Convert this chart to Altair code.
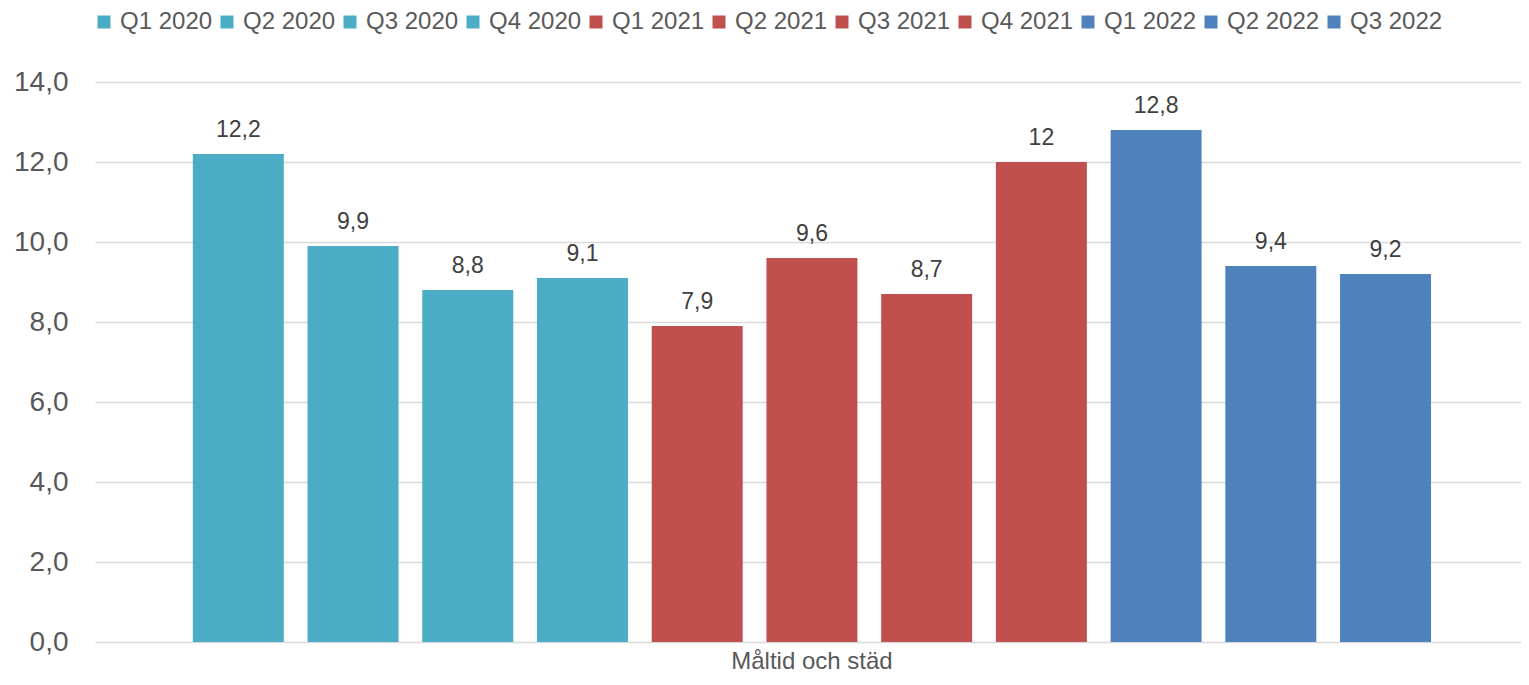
import altair as alt
import pandas as pd

quarters = ["Q1 2020", "Q2 2020", "Q3 2020", "Q4 2020",
            "Q1 2021", "Q2 2021", "Q3 2021", "Q4 2021",
            "Q1 2022", "Q2 2022", "Q3 2022"]
values = [12.2, 9.9, 8.8, 9.1, 7.9, 9.6, 8.7, 12, 12.8, 9.4, 9.2]
colors = ["#4BACC6", "#4BACC6", "#4BACC6", "#4BACC6",
          "#C0504D", "#C0504D", "#C0504D", "#C0504D",
          "#4F81BD", "#4F81BD", "#4F81BD"]
category = "Måltid och städ"
y_ticks = [0, 2, 4, 6, 8, 10, 12, 14]

df = pd.DataFrame({"kategori": [category] * len(quarters),
                   "kvartal": quarters, "varde": values})

FONT = "Liberation Sans"

x = alt.X("kategori:N", title=None,
          scale=alt.Scale(paddingInner=0, paddingOuter=0.065, align=0.524),
          axis=alt.Axis(labelAngle=0, ticks=False, domain=False,
                        labelFontSize=24, labelColor="#595959",
                        labelFont=FONT, labelPadding=7))
xo = alt.XOffset("kvartal:N", sort=quarters,
                 scale=alt.Scale(paddingInner=0.207, paddingOuter=0.1035))
y = alt.Y("varde:Q", title=None,
          scale=alt.Scale(domain=[0, 14], nice=False),
          axis=alt.Axis(values=y_ticks, ticks=False, domain=False,
                        labelExpr="replace(format(datum.value, '.1f'), '.', ',')",
                        labelFontSize=28, labelColor="#595959", labelFont=FONT,
                        labelPadding=27, gridColor="#D9D9D9", gridWidth=1.5))

color = alt.Color("kvartal:N", sort=quarters,
                  scale=alt.Scale(domain=quarters, range=colors),
                  legend=alt.Legend(title=None, orient="none", direction="horizontal",
                                    legendX=-3, legendY=-72, columns=11,
                                    symbolType="square", symbolSize=169,
                                    symbolStrokeWidth=0, symbolOpacity=1,
                                    labelFontSize=24, labelColor="#595959",
                                    labelFont=FONT, labelOffset=4,
                                    columnPadding=2))

bars = alt.Chart(df).mark_bar().encode(x=x, xOffset=xo, y=y, color=color)

labels = alt.Chart(df).transform_calculate(
    lbl="replace(toString(datum.varde), '.', ',')"
).mark_text(fontSize=23, font=FONT, color="#404040", baseline="alphabetic",
            dy=-17).encode(x=x, xOffset=xo, y=y, text="lbl:N")

chart = (bars + labels).properties(
    width=1426, height=560,
    autosize=alt.AutoSizeParams(type="none"),
    padding={"left": 87, "top": 74, "right": 0, "bottom": 35}
).configure_view(stroke=None)

chart.save("out.html", embed_options={"renderer": "svg", "actions": False})
